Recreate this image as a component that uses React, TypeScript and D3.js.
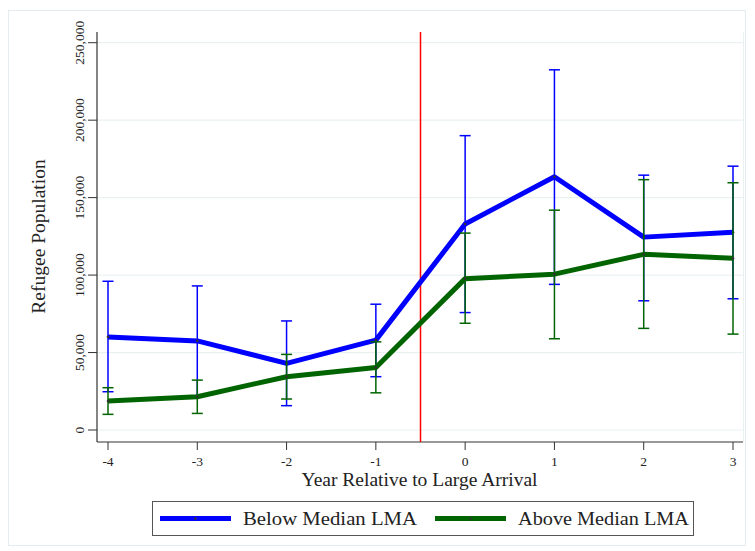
import { useEffect, useRef } from "react";
import * as d3 from "d3";

const years = [-4, -3, -2, -1, 0, 1, 2, 3];
const belowMean = [60100, 57500, 43000, 58000, 133000, 163500, 124500, 127600];
const belowLow = [24700, 22000, 15700, 34400, 75800, 94000, 83400, 84700];
const belowHigh = [96000, 93000, 70400, 81200, 190000, 232500, 164500, 170300];
const aboveMean = [18700, 21500, 34400, 40400, 97700, 100600, 113400, 110800];
const aboveLow = [10100, 10700, 20000, 24000, 68900, 58900, 65600, 61900];
const aboveHigh = [27300, 32200, 48800, 56900, 127100, 141900, 161600, 159600];
const yTicks = [0, 50000, 100000, 150000, 200000, 250000];
const eventLine = -0.5;

const seriesNames = ["Below Median LMA", "Above Median LMA"];
const seriesColors = ["#0000ff", "#006400"];

export default function App() {
  const svgRef = useRef<SVGSVGElement>(null);

  useEffect(() => {
    const W = 755;
    const H = 551;
    const svg = d3.select(svgRef.current).attr("width", W).attr("height", H).html(null);
    const font = "'Liberation Serif', 'Times New Roman', serif";

    const axisLeft = 97;
    const axisRight = 743;
    const axisTop = 32;
    const axisBottom = 442;

    const x = d3.scaleLinear().domain([-4, 3]).range([108, 733]);
    const y = d3.scaleLinear().domain([0, 250000]).range([430, 42.7]);

    // outer frame
    svg.append("rect").attr("x", 8.5).attr("y", 10.5).attr("width", 737).attr("height", 535)
      .attr("fill", "#fff").attr("stroke", "#e3ecee").attr("stroke-width", 1);

    // grid
    svg.append("g").selectAll("line").data(yTicks).join("line")
      .attr("x1", axisLeft).attr("x2", axisRight)
      .attr("y1", (d) => y(d)).attr("y2", (d) => y(d))
      .attr("stroke", "#eaf1f3").attr("stroke-width", 1.2);

    svg.append("line").attr("x1", axisRight + 0.5).attr("x2", axisRight + 0.5)
      .attr("y1", axisTop).attr("y2", axisBottom).attr("stroke", "#eaf1f3");

    // axes
    const axisColor = "#333";
    svg.append("line").attr("x1", axisLeft).attr("x2", axisLeft).attr("y1", axisTop).attr("y2", axisBottom)
      .attr("stroke", axisColor).attr("stroke-width", 1.2);
    svg.append("line").attr("x1", axisLeft).attr("x2", axisRight).attr("y1", axisBottom).attr("y2", axisBottom)
      .attr("stroke", axisColor).attr("stroke-width", 1.2);

    const yt = svg.append("g");
    yTicks.forEach((t) => {
      yt.append("line").attr("x1", axisLeft - 9).attr("x2", axisLeft).attr("y1", y(t)).attr("y2", y(t))
        .attr("stroke", axisColor).attr("stroke-width", 1);
      yt.append("text")
        .attr("transform", `translate(84,${y(t)}) rotate(-90)`)
        .attr("text-anchor", "middle")
        .style("font-family", font).style("font-size", "13.5px").attr("fill", "#222")
        .text(d3.format(",")(t));
    });

    const xt = svg.append("g");
    years.forEach((t) => {
      xt.append("line").attr("x1", x(t)).attr("x2", x(t)).attr("y1", axisBottom).attr("y2", axisBottom + 8)
        .attr("stroke", axisColor).attr("stroke-width", 1);
      xt.append("text").attr("x", x(t)).attr("y", 466).attr("text-anchor", "middle")
        .style("font-family", font).style("font-size", "13.5px").attr("fill", "#222")
        .text(t);
    });

    svg.append("text").attr("x", 419.5).attr("y", 486).attr("text-anchor", "middle")
      .style("font-family", font).style("font-size", "19.5px").attr("fill", "#222")
      .text("Year Relative to Large Arrival");

    svg.append("text").attr("transform", `translate(45,236.5) rotate(-90)`)
      .attr("text-anchor", "middle")
      .style("font-family", font).style("font-size", "19.5px").attr("fill", "#222")
      .text("Refugee Population");

    // event line
    svg.append("line").attr("x1", x(eventLine)).attr("x2", x(eventLine))
      .attr("y1", axisTop).attr("y2", axisBottom)
      .attr("stroke", "#ff0000").attr("stroke-width", 1.5);

    const series = [
      { mean: belowMean, low: belowLow, high: belowHigh },
      { mean: aboveMean, low: aboveLow, high: aboveHigh },
    ];

    const line = d3.line<number>().x((_, i) => x(years[i])).y((d) => y(d));

    series.forEach((s, si) => {
      const g = svg.append("g");
      const c = seriesColors[si];
      years.forEach((yr, i) => {
        const cx = x(yr);
        g.append("line").attr("x1", cx).attr("x2", cx).attr("y1", y(s.low[i])).attr("y2", y(s.high[i]))
          .attr("stroke", c).attr("stroke-width", 1.5);
        [s.low[i], s.high[i]].forEach((v) => {
          g.append("line").attr("x1", cx - 5.5).attr("x2", cx + 5.5).attr("y1", y(v)).attr("y2", y(v))
            .attr("stroke", c).attr("stroke-width", 1.5);
        });
      });
      g.append("path").datum(s.mean).attr("d", line).attr("fill", "none")
        .attr("stroke", c).attr("stroke-width", 5).attr("stroke-linejoin", "round");
      g.selectAll("circle").data(s.mean).join("circle")
        .attr("cx", (_, i) => x(years[i])).attr("cy", (d) => y(d)).attr("r", 1.3)
        .attr("fill", "#333");
    });

    // legend
    const lg = svg.append("g");
    lg.append("rect").attr("x", 152.5).attr("y", 501.5).attr("width", 541).attr("height", 34)
      .attr("fill", "#fff").attr("stroke", "#555").attr("stroke-width", 1);
    const items = [{ x0: 160, tx: 243, w: 174 }, { x0: 435, tx: 518, w: 171 }];
    items.forEach((it, i) => {
      lg.append("line").attr("x1", it.x0).attr("x2", it.x0 + 71).attr("y1", 518.5).attr("y2", 518.5)
        .attr("stroke", seriesColors[i]).attr("stroke-width", 5);
      lg.append("circle").attr("cx", it.x0 + 35.5).attr("cy", 518.5).attr("r", 1.3).attr("fill", "#333");
      lg.append("text").attr("x", it.tx).attr("y", 525)
        .attr("textLength", it.w).attr("lengthAdjust", "spacingAndGlyphs")
        .style("font-family", font).style("font-size", "18px").attr("fill", "#222")
        .text(seriesNames[i]);
    });
  }, []);

  return (
    <svg ref={svgRef} style={{ position: "absolute", left: 0, top: 0, display: "block" }}></svg>
  );
}
